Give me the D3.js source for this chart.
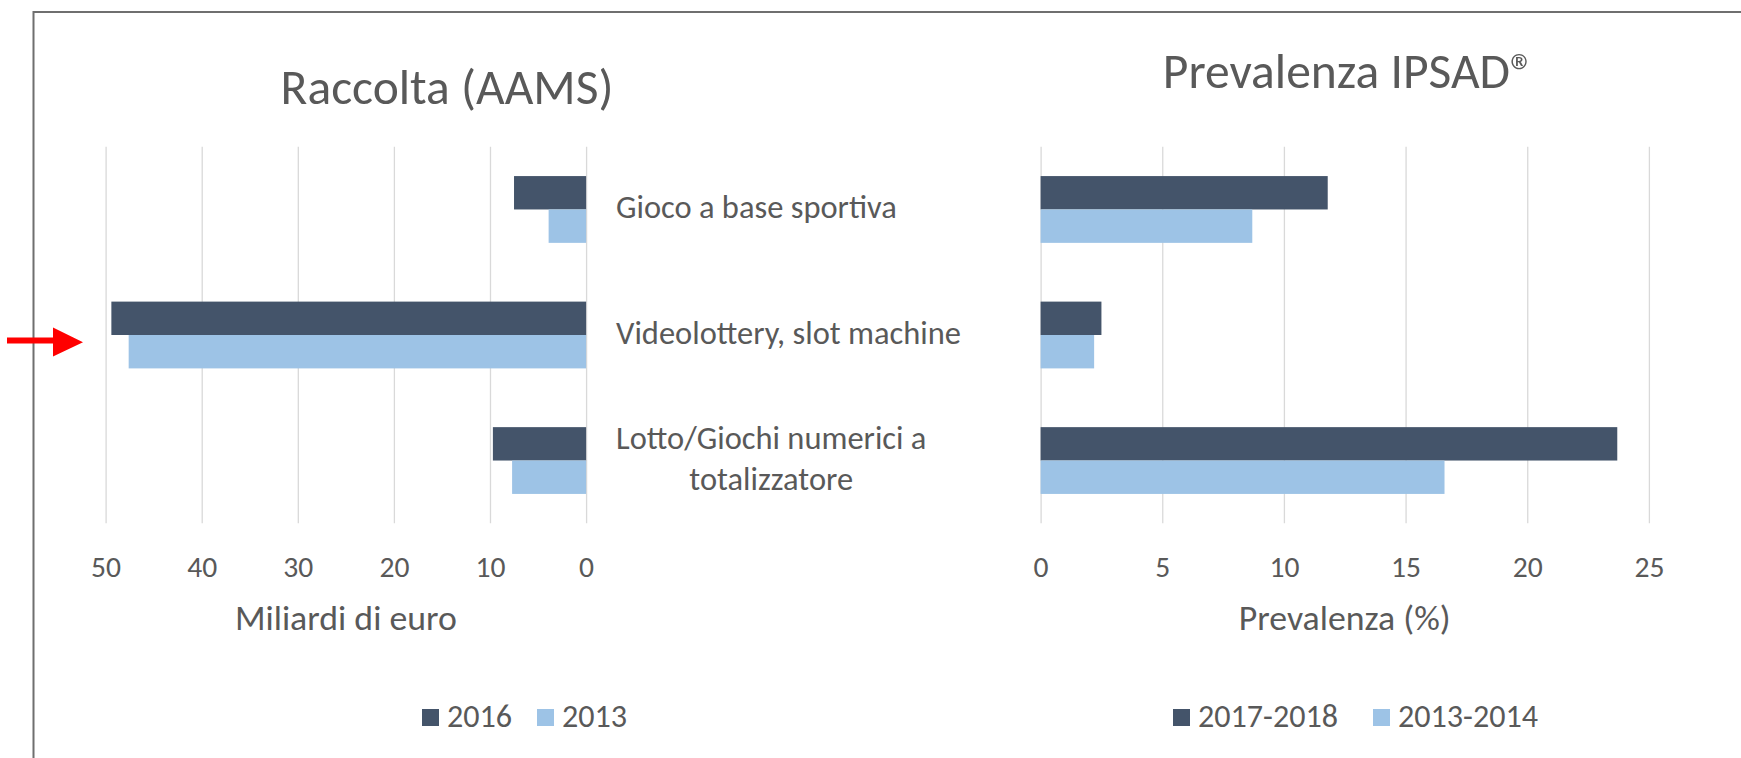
<!DOCTYPE html>
<html>
<head>
<meta charset="utf-8">
<script src="https://cdn.jsdelivr.net/npm/d3@7"></script>
<style>
  html, body { margin: 0; padding: 0; background: #ffffff; }
  svg { display: block; }
</style>
</head>
<body>
<svg id="chart" width="1741" height="758"></svg>
<script>
// ---------- DATA ----------
const categories = ["Gioco a base sportiva", "Videolottery, slot machine", "Lotto/Giochi numerici a totalizzatore"];
const categoryLines = [["Gioco a base sportiva"], ["Videolottery, slot machine"], ["Lotto/Giochi numerici a", "totalizzatore"]];
const raccolta2016 = [7.5, 49.4, 9.7];
const raccolta2013 = [3.9, 47.6, 7.7];
const prevalenza2017 = [11.8, 2.5, 23.7];
const prevalenza2013 = [8.7, 2.2, 16.6];
const leftSeriesNames = ["2016", "2013"];
const rightSeriesNames = ["2017-2018", "2013-2014"];
const leftTicks = [0, 10, 20, 30, 40, 50];
const rightTicks = [0, 5, 10, 15, 20, 25];
const leftTitle = "Raccolta (AAMS)";
const rightTitle = "Prevalenza IPSAD®";
const leftAxisTitle = "Miliardi di euro";
const rightAxisTitle = "Prevalenza (%)";

// ---------- STYLE ----------
const FONT = "Carlito, Lato, 'Open Sans', sans-serif";
const TEXT = "#595959";
const DARK = "#44546a";
const LIGHT = "#9dc3e6";
const GRID = "#d9d9d9";

const svg = d3.select("#chart");
svg.append("rect").attr("width", 1741).attr("height", 758).attr("fill", "#fff");

function fitSize(text, target) {
  const t = svg.append("text").attr("font-family", FONT).attr("font-size", 100).text(text);
  const w = t.node().getComputedTextLength();
  t.remove();
  return 100 * target / w;
}
function textWidth(text, size) {
  const t = svg.append("text").attr("font-family", FONT).attr("font-size", size).text(text);
  const w = t.node().getComputedTextLength();
  t.remove();
  return w;
}

const titleSize = fitSize(leftTitle, 333);
const catSize = fitSize("Videolottery, slot machine", 345);
const axisTitleSize = fitSize(leftAxisTitle, 222);
const tickSize = fitSize("20", 30);
const legendSize = fitSize("2017-2018", 140);

// frame border (top + left visible)
svg.append("rect")
  .attr("x", 33.5).attr("y", 12).attr("width", 1760).attr("height", 800)
  .attr("fill", "none").attr("stroke", "#6f6f6f").attr("stroke-width", 2);

// ---------- SCALES ----------
const yTop = 146.7, yBot = 523.3;
const y = d3.scaleBand().domain(categories).range([yTop, yBot]).paddingInner(0.468).paddingOuter(0.234);
const xL = d3.scaleLinear().domain([0, 50]).range([586.1, 105.6]);
const xR = d3.scaleLinear().domain([0, 25]).range([1040.6, 1648.9]);
const ySubL = d3.scaleBand().domain(leftSeriesNames).range([0, y.bandwidth()]);
const ySubR = d3.scaleBand().domain(rightSeriesNames).range([0, y.bandwidth()]);

// ---------- AXES / GRID ----------
function drawAxis(scale, ticks) {
  const g = svg.append("g")
    .attr("transform", `translate(0,${yBot})`)
    .call(d3.axisBottom(scale).tickValues(ticks).tickSize(-(yBot - yTop)).tickFormat(d3.format("d")));
  g.select(".domain").remove();
  g.selectAll(".tick line").attr("stroke", GRID).attr("stroke-width", 1.3);
  g.selectAll(".tick text")
    .attr("font-family", FONT).attr("font-size", tickSize).attr("fill", TEXT)
    .attr("y", 577 - yBot).attr("dy", 0);
  return g;
}
drawAxis(xL, leftTicks);
drawAxis(xR, rightTicks);

// ---------- BARS ----------
const leftData = categories.map((c, i) => [
  { cat: c, s: leftSeriesNames[0], v: raccolta2016[i], color: DARK },
  { cat: c, s: leftSeriesNames[1], v: raccolta2013[i], color: LIGHT }
]).flat();
const rightData = categories.map((c, i) => [
  { cat: c, s: rightSeriesNames[0], v: prevalenza2017[i], color: DARK },
  { cat: c, s: rightSeriesNames[1], v: prevalenza2013[i], color: LIGHT }
]).flat();

svg.append("g").selectAll("rect").data(leftData).join("rect")
  .attr("x", d => xL(d.v))
  .attr("width", d => xL(0) - xL(d.v))
  .attr("y", d => y(d.cat) + ySubL(d.s))
  .attr("height", ySubL.bandwidth())
  .attr("fill", d => d.color);

svg.append("g").selectAll("rect").data(rightData).join("rect")
  .attr("x", xR(0))
  .attr("width", d => xR(d.v) - xR(0))
  .attr("y", d => y(d.cat) + ySubR(d.s))
  .attr("height", ySubR.bandwidth())
  .attr("fill", d => d.color);

// ---------- CATEGORY LABELS ----------
const labelX = 616;
const lineH = 41;
categories.forEach((c, i) => {
  const lines = categoryLines[i];
  const widths = lines.map(l => textWidth(l, catSize));
  const maxW = Math.max(...widths);
  const cy = y(c) + y.bandwidth() / 2;
  lines.forEach((l, j) => {
    const lc = cy + (j - (lines.length - 1) / 2) * lineH;
    svg.append("text")
      .attr("x", labelX + maxW / 2).attr("y", lc + 9)
      .attr("text-anchor", "middle")
      .attr("font-family", FONT).attr("font-size", catSize).attr("fill", TEXT)
      .text(l);
  });
});

// ---------- TITLES ----------
svg.append("text").attr("x", 447).attr("y", 104).attr("text-anchor", "middle")
  .attr("font-family", FONT).attr("font-size", titleSize).attr("fill", TEXT).text(leftTitle);
svg.append("text").attr("x", 1349).attr("y", 88).attr("text-anchor", "middle")
  .attr("font-family", FONT).attr("font-size", titleSize).attr("fill", TEXT).text(rightTitle);

svg.append("text").attr("x", (xL.range()[0] + xL.range()[1]) / 2).attr("y", 630).attr("text-anchor", "middle")
  .attr("font-family", FONT).attr("font-size", axisTitleSize).attr("fill", TEXT).text(leftAxisTitle);
svg.append("text").attr("x", (xR.range()[0] + xR.range()[1]) / 2).attr("y", 630).attr("text-anchor", "middle")
  .attr("font-family", FONT).attr("font-size", axisTitleSize).attr("fill", TEXT).text(rightAxisTitle);

// ---------- LEGENDS ----------
function legend(names, colors, starts) {
  names.forEach((n, i) => {
    svg.append("rect").attr("x", starts[i]).attr("y", 709).attr("width", 17).attr("height", 17).attr("fill", colors[i]);
    svg.append("text").attr("x", starts[i] + 25).attr("y", 727)
      .attr("font-family", FONT).attr("font-size", legendSize).attr("fill", TEXT).text(n);
  });
}
legend(leftSeriesNames, [DARK, LIGHT], [422, 537]);
legend(rightSeriesNames, [DARK, LIGHT], [1173, 1373]);

// ---------- ANNOTATION ARROW ----------
svg.append("path")
  .attr("d", "M7,337.5 L53,337.5 L53,327.5 L83,342.3 L53,356.5 L53,343.5 L7,343.5 Z")
  .attr("fill", "#ff0000");
</script>
</body>
</html>
